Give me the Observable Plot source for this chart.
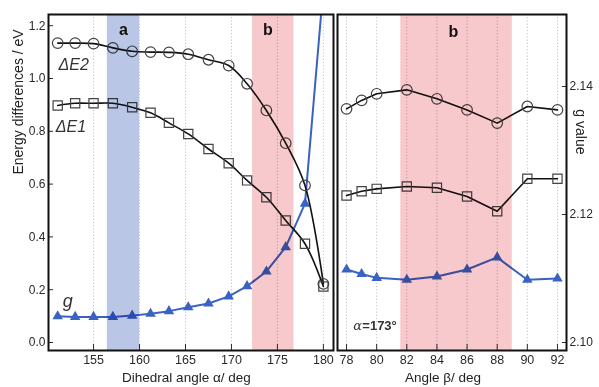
<!DOCTYPE html>
<html>
<head>
<meta charset="utf-8">
<script src="https://cdn.jsdelivr.net/npm/d3@7"></script>
<script src="https://cdn.jsdelivr.net/npm/@observablehq/plot@0.6"></script>
<style>
  body { margin: 0; background: #fff; }
  #chart { position: relative; width: 599px; height: 387px; overflow: hidden; font-family: "Liberation Sans", Arial, sans-serif; }
  #left, #right { position: absolute; top: 0; }
  #left { left: 0; }
  #right { left: 335px; }
</style>
</head>
<body>
<div id="chart"><div id="left"></div><div id="right"></div></div>
<script>
// ---- Left panel data: dihedral angle alpha ----
const alpha    = [151.1, 153.0, 155.0, 157.1, 159.2, 161.2, 163.2, 165.3, 167.5, 169.7, 171.7, 173.8, 175.9, 178.0, 180.0];
const dE2Alpha = [1.134, 1.134, 1.132, 1.116, 1.103, 1.100, 1.099, 1.092, 1.071, 1.049, 0.980, 0.879, 0.755, 0.595, 0.222];
const dE1Alpha = [0.898, 0.906, 0.906, 0.906, 0.891, 0.870, 0.832, 0.790, 0.733, 0.679, 0.614, 0.550, 0.462, 0.374, 0.212];
const gAlpha   = [2.1041, 2.1040, 2.1040, 2.1040, 2.1042, 2.1045, 2.1049, 2.1055, 2.1061, 2.1072, 2.1088, 2.1111, 2.1149, 2.1217, 2.1555];

// ---- Right panel data: angle beta (alpha = 173°) ----
const beta    = [78, 79, 80, 82, 84, 86, 88, 90, 92];
const dE2Beta = [0.885, 0.917, 0.942, 0.957, 0.923, 0.881, 0.831, 0.894, 0.881];
const dE1Beta = [0.557, 0.573, 0.582, 0.591, 0.586, 0.553, 0.497, 0.620, 0.620];
const gBeta   = [2.1114, 2.1107, 2.1101, 2.1098, 2.1103, 2.1114, 2.1133, 2.1098, 2.1100];

// ---- Ticks ----
const alphaTicks = [155, 160, 165, 170, 175, 180];
const betaTicks  = [78, 80, 82, 84, 86, 88, 90, 92];
const energyTicks = [0, 0.2, 0.4, 0.6, 0.8, 1.0, 1.2];
const gTicks = [2.10, 2.12, 2.14];

// ---- Shaded regions ----
const bandsAlpha = [{x1: 156.5, x2: 160.0, label: "a", fill: "#b9c6e5"},
                    {x1: 172.3, x2: 176.8, label: "b", fill: "#f7c8cc"}];
const bandsBeta  = [{x1: 81.6, x2: 89.0, label: "b", fill: "#f7c8cc"}];

// g value is drawn on a secondary axis sharing the energy pixel space
const toE = g => (g - 2.10) * 6400 / 264;
const fromE = e => 2.10 + e * 264 / 6400;
const yDomain = [-0.0303, 1.2424];

const blue = "#3a62c4";
const font = '"Liberation Sans", Arial, sans-serif';
const left = alpha.map((a, i) => ({a, e2: dE2Alpha[i], e1: dE1Alpha[i], g: toE(gAlpha[i])}));
const right = beta.map((b, i) => ({b, e2: dE2Beta[i], e1: dE1Beta[i], g: toE(gBeta[i])}));

const style = {fontFamily: font, fontSize: "12px", color: "#2a2a2a", background: "transparent", overflow: "visible"};

const leftPlot = Plot.plot({
  width: 335, height: 387,
  marginLeft: 48, marginRight: 2, marginTop: 14, marginBottom: 37,
  style,
  x: {domain: [150.1, 181.1], label: null},
  y: {domain: yDomain, label: null},
  marks: [
    Plot.gridX(alphaTicks, {stroke: "#b5b5b5", strokeOpacity: 0.8, strokeDasharray: "1.2,2"}),
    Plot.line(left, {x: "a", y: "g", stroke: blue, strokeWidth: 2, clip: true}),
    Plot.dot(left, {x: "a", y: "g", symbol: "triangle", fill: blue, r: 3.9, clip: true}),
    Plot.line(left, {x: "a", y: "e2", curve: "catmull-rom", stroke: "#111", strokeWidth: 1.6}),
    Plot.dot(left, {x: "a", y: "e2", symbol: "circle", stroke: "#444", strokeWidth: 1.2, r: 5.3}),
    Plot.line(left, {x: "a", y: "e1", curve: "catmull-rom", stroke: "#111", strokeWidth: 1.6}),
    Plot.dot(left, {x: "a", y: "e1", symbol: "square", stroke: "#444", strokeWidth: 1.2, r: 5.2}),
    Plot.rect(bandsAlpha, {x1: "x1", x2: "x2", fill: "fill", mixBlendMode: "multiply"}),
    Plot.text(bandsAlpha, {x: d => (d.x1 + d.x2) / 2 - (d.label === "b" ? 0.6 : 0), y: 1.184, text: "label", fontWeight: "bold", fontSize: 16, fill: "#111"}),
    Plot.text(["ΔE2"], {x: 151.2, y: 1.05, text: d => d, textAnchor: "start", fontStyle: "italic", fontSize: 16, fill: "#333"}),
    Plot.text(["ΔE1"], {x: 150.9, y: 0.818, text: d => d, textAnchor: "start", fontStyle: "italic", fontSize: 16, fill: "#333"}),
    Plot.text(["g"], {x: 152.2, y: 0.155, text: d => d, fontStyle: "italic", fontSize: 18, fill: "#333"}),
    Plot.text(["Energy differences / eV"], {y: 0.636, frameAnchor: "left", dx: -30, rotate: -90, text: d => d, fontSize: 14, fill: "#222"}),
    Plot.text(["Dihedral angle α/ deg"], {x: 165.1, frameAnchor: "bottom", dy: 31, text: d => d, fontSize: 13.5, fill: "#222"}),
    Plot.axisX(alphaTicks, {tickSize: 6, dy: -6, tickPadding: 5, label: null, fontSize: 12.5}),
    Plot.axisY(energyTicks, {tickSize: 5, dx: 5, tickPadding: 3, label: null, tickFormat: d3.format(".1f")}),
    Plot.frame({stroke: "#111", strokeWidth: 2})
  ]
});

const rightPlot = Plot.plot({
  width: 264, height: 387,
  marginLeft: 2, marginRight: 33, marginTop: 14, marginBottom: 37,
  style,
  x: {domain: [77.4, 92.6], label: null},
  y: {domain: yDomain, label: null},
  marks: [
    Plot.gridX(betaTicks, {stroke: "#b5b5b5", strokeOpacity: 0.8, strokeDasharray: "1.2,2"}),
    Plot.line(right, {x: "b", y: "g", stroke: blue, strokeWidth: 2}),
    Plot.dot(right, {x: "b", y: "g", symbol: "triangle", fill: blue, r: 3.9}),
    Plot.line(right, {x: "b", y: "e2", stroke: "#111", strokeWidth: 1.6}),
    Plot.dot(right, {x: "b", y: "e2", symbol: "circle", stroke: "#444", strokeWidth: 1.2, r: 5.3}),
    Plot.line(right, {x: "b", y: "e1", stroke: "#111", strokeWidth: 1.6}),
    Plot.dot(right, {x: "b", y: "e1", symbol: "square", stroke: "#444", strokeWidth: 1.2, r: 5.2}),
    Plot.rect(bandsBeta, {x1: "x1", x2: "x2", fill: "fill", mixBlendMode: "multiply"}),
    Plot.text(bandsBeta, {x: 85.1, y: 1.176, text: "label", fontWeight: "bold", fontSize: 16, fill: "#111"}),
    Plot.text(["α"], {x: 78.45, y: 0.064, text: d => d, textAnchor: "start", fontStyle: "italic", fontFamily: '"DejaVu Serif", serif', fontSize: 13, fill: "#333"}),
    Plot.text(["=173°"], {x: 78.45, y: 0.064, dx: 9, text: d => d, textAnchor: "start", fontWeight: "bold", fontSize: 13, fill: "#333"}),
    Plot.text(["Angle β/ deg"], {x: 84.4, frameAnchor: "bottom", dy: 31, text: d => d, fontSize: 13.5, fill: "#222"}),
    Plot.text(["g value"], {y: 0.712, frameAnchor: "right", dx: 14, rotate: 90, text: d => d, fontSize: 14, fill: "#222"}),
    Plot.axisX(betaTicks, {tickSize: 6, dy: -6, tickPadding: 5, label: null, fontSize: 12.5}),
    Plot.axisY(gTicks.map(toE), {anchor: "right", tickSize: 5, dx: -5, tickPadding: 3, label: null, tickFormat: e => fromE(e).toFixed(2)}),
    Plot.frame({stroke: "#111", strokeWidth: 2})
  ]
});

document.getElementById("left").append(leftPlot);
document.getElementById("right").append(rightPlot);
</script>
</body>
</html>
